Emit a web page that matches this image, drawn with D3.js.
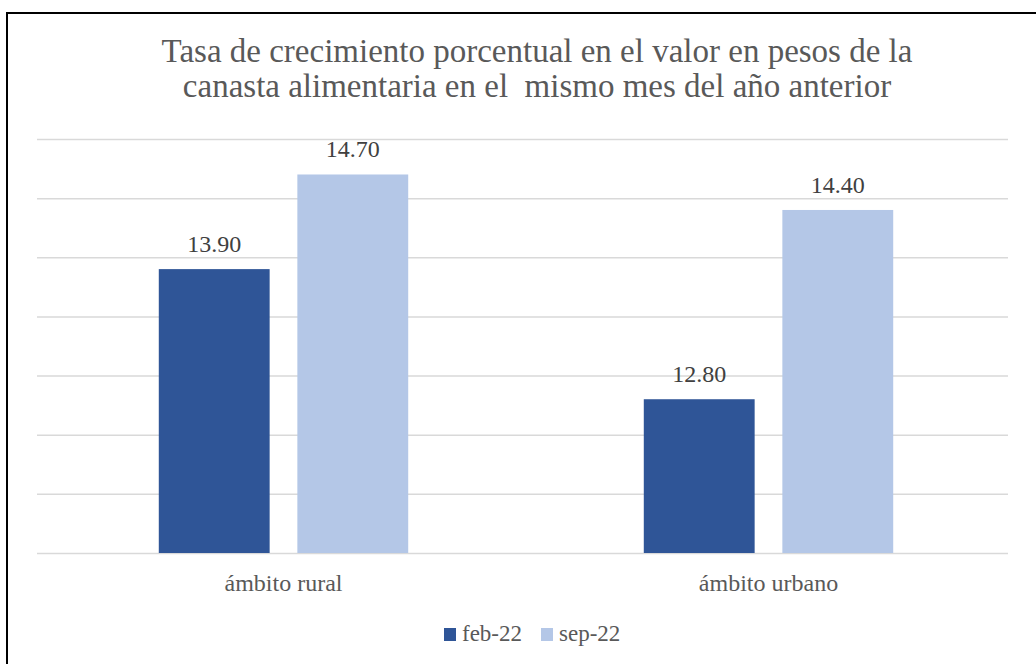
<!DOCTYPE html>
<html lang="es">
<head>
  <meta charset="UTF-8">
  <script src="https://d3js.org/d3.v7.min.js"></script>
  <style>
    body { margin: 0; background: #fff; }
  </style>
</head>
<body>
  <div id="chart"></div>
  <script>
    // data
    const categories = ["ámbito rural", "ámbito urbano"];
    const seriesNames = ["feb-22", "sep-22"];
    const feb22 = [13.90, 12.80];
    const sep22 = [14.70, 14.40];
    const gridTicks = [11.5, 12, 12.5, 13, 13.5, 14, 14.5, 15];
    const titleLines = [
      "Tasa de crecimiento porcentual en el valor en pesos de la",
      "canasta alimentaria en el  mismo mes del año anterior"
    ];

    const w = 1036, h = 664;
    const margin = { top: 139, bottom: 111, left: 37, right: 28 };
    const colors = { "feb-22": "#2F5597", "sep-22": "#B4C7E7" };
    const serif = "Liberation Serif";

    const svg = d3.select("#chart").append("svg")
      .attr("width", w)
      .attr("height", h)
      .style("display", "block")
      .style("font-family", serif);

    // outer frame (right and bottom edges fall outside the picture)
    svg.append("rect")
      .attr("x", 7).attr("y", 13)
      .attr("width", w + 20).attr("height", h + 20)
      .attr("fill", "none")
      .attr("stroke", "#000")
      .attr("stroke-width", 2);

    const x0 = d3.scaleBand()
      .domain(categories)
      .range([41, 1011])
      .padding(0);

    const x1 = d3.scaleBand()
      .domain(seriesNames)
      .range([0, x0.bandwidth()])
      .paddingInner(0.2)
      .paddingOuter(0.85);

    const y = d3.scaleLinear()
      .domain([11.5, 15])
      .range([h - margin.bottom, margin.top]);

    // gridlines
    const yAxis = d3.axisLeft(y)
      .tickValues(gridTicks)
      .tickSize(-(w - margin.left - margin.right))
      .tickFormat("");
    const gy = svg.append("g")
      .attr("transform", "translate(" + margin.left + ",0)")
      .call(yAxis);
    gy.select(".domain").remove();
    gy.selectAll(".tick line")
      .attr("stroke", "#D9D9D9")
      .attr("stroke-width", 1.5);

    const rows = categories.map((c, i) => ({ cat: c, values: [
      { s: "feb-22", v: feb22[i] },
      { s: "sep-22", v: sep22[i] }
    ] }));

    const groups = svg.append("g").selectAll("g")
      .data(rows)
      .enter()
      .append("g")
      .attr("transform", d => "translate(" + x0(d.cat) + ",0)");

    groups.selectAll("rect")
      .data(d => d.values)
      .enter()
      .append("rect")
      .attr("x", d => x1(d.s))
      .attr("y", d => y(d.v))
      .attr("width", x1.bandwidth())
      .attr("height", d => y(11.5) - y(d.v))
      .attr("fill", d => colors[d.s]);

    groups.selectAll(".lbl")
      .data(d => d.values)
      .enter()
      .append("text")
      .attr("class", "lbl")
      .attr("x", d => x1(d.s) + x1.bandwidth() / 2)
      .attr("y", d => y(d.v) - 17)
      .attr("text-anchor", "middle")
      .style("font-family", serif)
      .style("font-size", "24px")
      .attr("fill", "#404040")
      .text(d => d.v.toFixed(2));

    // category labels
    const xAxis = d3.axisBottom(x0).tickSize(0).tickPadding(21);
    const gx = svg.append("g")
      .attr("transform", "translate(0," + y(11.5) + ")")
      .call(xAxis);
    gx.attr("font-family", null).attr("font-size", null);
    gx.select(".domain").remove();
    gx.selectAll(".tick text")
      .style("font-size", "24px")
      .style("font-family", serif)
      .attr("fill", "#595959");

    // title
    svg.append("g").selectAll("text")
      .data(titleLines)
      .enter()
      .append("text")
      .attr("x", 537)
      .attr("y", (d, i) => 62 + i * 35)
      .attr("text-anchor", "middle")
      .style("font-family", serif)
      .style("font-size", "33px")
      .style("white-space", "pre")
      .attr("fill", "#595959")
      .text(d => d);

    // legend
    const legendX = [444, 541];
    const legend = svg.append("g").selectAll("g")
      .data(seriesNames)
      .enter()
      .append("g")
      .attr("transform", (d, i) => "translate(" + legendX[i] + ",628)");
    legend.append("rect")
      .attr("width", 12).attr("height", 13)
      .attr("fill", d => colors[d]);
    legend.append("text")
      .attr("x", 18).attr("y", 13)
      .style("font-family", serif)
      .style("font-size", "23px")
      .attr("fill", "#595959")
      .text(d => d);
  </script>
</body>
</html>
